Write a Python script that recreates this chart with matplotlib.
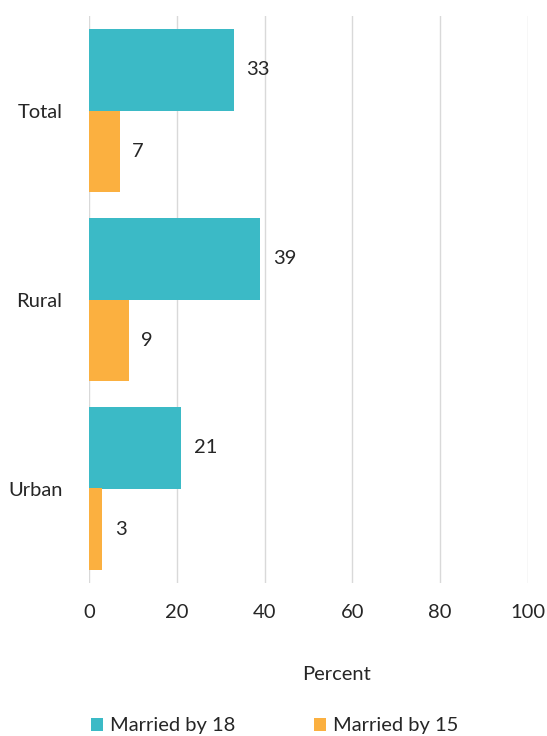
import matplotlib
matplotlib.use("Agg")
import matplotlib.pyplot as plt
import numpy as np

categories = ["Total", "Rural", "Urban"]
married_by_18 = [33, 39, 21]
married_by_15 = [7, 9, 3]
series_names = ["Married by 18", "Married by 15"]
xticks = [0, 20, 40, 60, 80, 100]

teal = "#3BBAC6"
orange = "#FBB040"
txt = "#262626"
fs = 14.5

plt.rcParams['font.family'] = ['Lato', 'DejaVu Sans']

fig = plt.figure(figsize=(5.47, 7.36), dpi=100)
ax = fig.add_axes([89/547, 1-583/736, (528-89)/547, (583-16)/736])

y = np.arange(len(categories))
h = 0.43
b1 = ax.barh(y - h/2, married_by_18, height=h, color=teal, label=series_names[0], zorder=3)
b2 = ax.barh(y + h/2, married_by_15, height=h, color=orange, label=series_names[1], zorder=3)

for bars, vals in ((b1, married_by_18), (b2, married_by_15)):
    for rect, v in zip(bars, vals):
        ax.annotate(f"{v}", (rect.get_width(), rect.get_y() + rect.get_height()/2),
                    xytext=(9, 0), textcoords="offset points", va="center", ha="left",
                    fontsize=fs, color=txt)

ax.set_xlim(0, 100)
ax.set_ylim(2.5, -0.5)
ax.set_xticks(xticks)
ax.set_yticks(y)
ax.set_yticklabels(categories)
ax.tick_params(axis='both', length=0, labelsize=fs, colors=txt)
ax.tick_params(axis='x', pad=15)
ax.tick_params(axis='y', pad=19)
for s in ax.spines.values():
    s.set_visible(False)
ax.grid(axis='x', color="#d9d9d9", linewidth=1, zorder=0)
ax.set_axisbelow(True)

fig.text(337/547, 1-675/736, "Percent", ha="center", va="center", fontsize=fs, color=txt)

leg = fig.legend(handles=[b1, b2], labels=series_names, loc="center left",
                 bbox_to_anchor=(73/547, 1-726/736), ncol=2, frameon=False,
                 fontsize=fs, handlelength=0.6, handleheight=0.6, handletextpad=0.35,
                 columnspacing=3.9)
for t in leg.get_texts():
    t.set_color(txt)

fig.savefig("out.png", dpi=100)
